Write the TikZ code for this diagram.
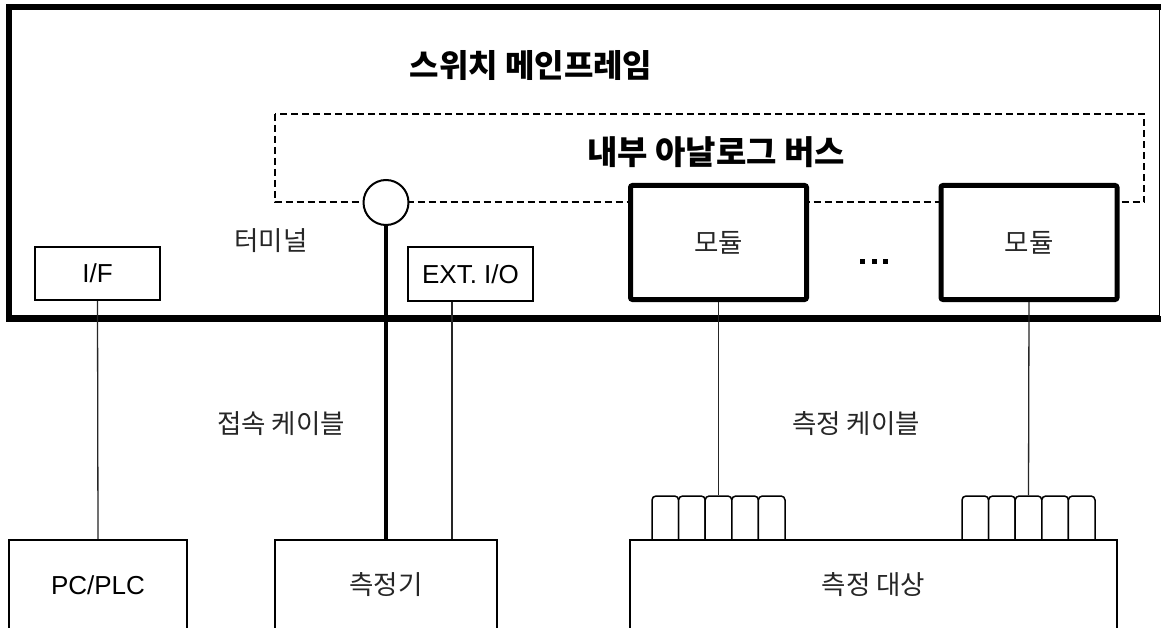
\documentclass[tikz,border=0pt]{standalone}
\usepackage{fontspec}
\setmainfont{Liberation Sans}
\newfontfamily\kr{Noto Sans CJK KR}
\usetikzlibrary{calc}
\tikzset{
  frameline/.style={line width=6pt},
  thinbox/.style={draw, line width=2pt, fill=white, inner sep=0pt, font=\fontsize{26}{30}\selectfont},
  bigbox/.style={draw, line width=2pt, fill=white, inner sep=0pt, font=\kr\fontsize{26.5}{30}\selectfont, text=black!85},
  modbox/.style={draw, line width=5pt, rounded corners=2pt, fill=white, inner sep=0pt,
                 minimum width=176pt, minimum height=114pt, font=\kr\fontsize{26.5}{30}\selectfont, text=black!85},
  pin/.style={draw, line width=1.5pt, rounded corners=4pt, fill=white, inner sep=0pt,
              minimum width=26.6pt, minimum height=54pt},
  wire/.style={line width=1.3pt, draw=black!85},
  lbl/.style={inner sep=0pt, font=\kr\fontsize{26.5}{30}\selectfont, text=black!85},
  title/.style={inner sep=0pt, font=\kr\bfseries\fontsize{32}{36}\selectfont},
  dashbox/.style={line width=2pt, dash pattern=on 7pt off 4pt},
  terminal/.style={draw, circle, line width=2pt, fill=white, minimum size=45pt, inner sep=0pt},
  dotsq/.style={fill=black}
}
\begin{document}
\begin{tikzpicture}[x=1pt,y=-1pt]
\useasboundingbox (0,0) rectangle (1161,628);
\fill[white] (0,0) rectangle (1161,628);

% main frame
\draw[line width=1pt] (9,7) rectangle (1159,315.5);
\draw[frameline] (1168,7) -- (9,7) -- (9,318.5) -- (1168,318.5);
\node[title] (main) at (531,66) {스위치 메인프레임};

% internal analog bus
\draw[dashbox] (275,114) rectangle (1144,202.5);
\node[title, font=\kr\bfseries\fontsize{33}{37}\selectfont] (bus) at (716,152) {내부 아날로그 버스};

% terminal
\node[terminal] (term) at (386,202.5) {};
\node[lbl] (termlbl) at (271,241) {터미널};

% boxes in frame
\node[thinbox, minimum width=125pt, minimum height=53pt] (if) at (97.5,273.5) {I/F};
\node[thinbox, minimum width=125pt, minimum height=54pt] (ext) at (470.5,274) {EXT. I/O};
\node[modbox] (mod1) at (718.5,242.5) {모듈};
\node[modbox] (mod2) at (1029,242.5) {모듈};

% dots
\fill[dotsq] (859.5,259.5) rectangle +(5,5);
\fill[dotsq] (871.5,259.5) rectangle +(5,5);
\fill[dotsq] (882.5,259.5) rectangle +(5,5);

% connector pins
\foreach \i in {1,...,5} {
  \node[pin] (cl\i) at ({652+(\i-0.5)*26.6},523) {};
  \node[pin] (cr\i) at ({962+(\i-0.5)*26.6},523) {};
}

% bottom boxes
\node[thinbox, minimum width=178pt, minimum height=90pt] (pc) at (98,585) {PC/PLC};
\node[bigbox, minimum width=222pt, minimum height=90pt] (meter) at (386,585) {측정기};
\node[bigbox, minimum width=487pt, minimum height=90pt] (dut) at (873.5,585) {측정 대상};

% connections
\draw[wire] (if.south) -- (pc.north);
\draw[line width=4.5pt] (term.south) -- (meter.north);
\draw[wire] ([xshift=-18.5pt]ext.south) -- ([xshift=66pt]meter.north);
\draw[wire] (mod1.south) -- (cl3.north);
\draw[wire] (mod2.south) -- (cr3.north);

% labels
\node[lbl] (cab1) at (281,424) {접속 케이블};
\node[lbl] (cab2) at (856,424) {측정 케이블};
\end{tikzpicture}
\end{document}
